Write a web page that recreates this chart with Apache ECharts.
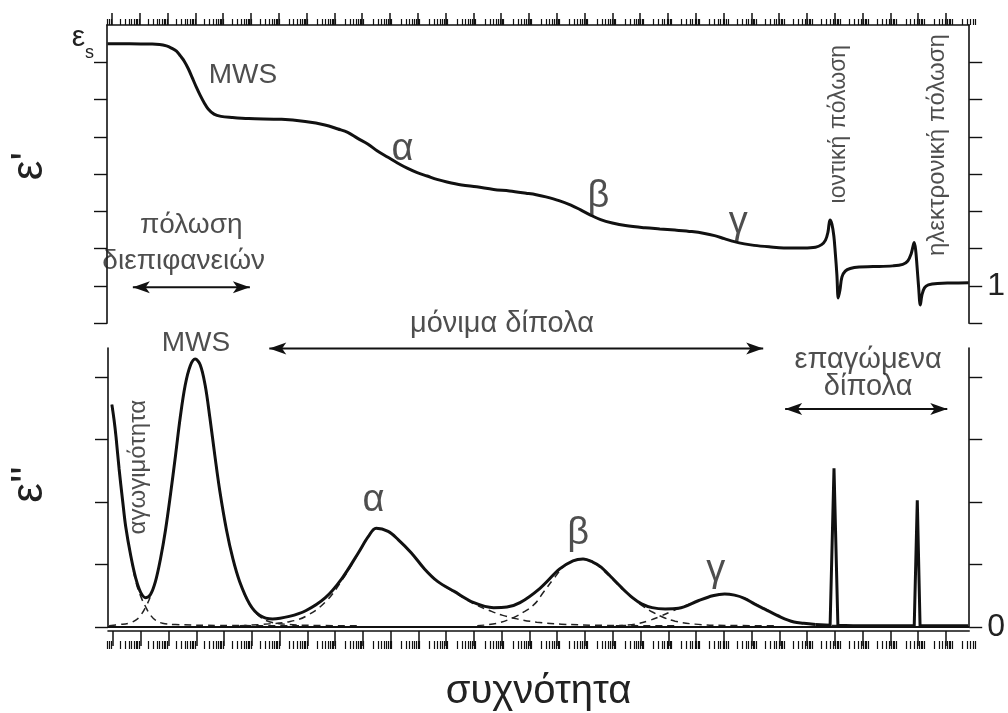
<!DOCTYPE html>
<html><head><meta charset="utf-8">
<script src="https://cdn.jsdelivr.net/npm/echarts@6/dist/echarts.min.js"></script>
<style>html,body{margin:0;padding:0;background:#fff}#c{width:1008px;height:713px}</style>
</head><body><div id="c"></div>
<script>
// ---------- data (x = log10 frequency, decades) ----------
const realLogF = [-0.16,0.64,1.35,1.71,1.96,2.14,2.32,2.46,2.60,2.75,2.89,3.03,3.17,3.32,3.46,3.67,3.92,4.31,4.92,6.10,6.95,7.66,8.13,8.48,8.84,9.20,9.55,9.91,10.27,10.62,10.98,11.34,11.69,12.05,12.58,13.12,13.73,14.30,14.90,15.26,15.61,16.08,16.51,16.86,17.22,17.58,18.00,18.47,19.18,19.71,20.25,20.86,21.32,21.68,22.03,22.39,22.75,23.10,23.64,24.17,24.88,25.31,25.53,25.67,25.76,25.83,25.90,25.97,26.02,26.08,26.13,26.19,26.26,26.38,26.56,26.88,27.38,28.09,28.45,28.63,28.75,28.82,28.86,28.91,28.96,29.02,29.08,29.14,29.23,29.37,29.70,30.23,30.82];
const realEps  = [7.50,7.50,7.49,7.48,7.44,7.38,7.30,7.17,7.03,6.82,6.58,6.34,6.12,5.91,5.75,5.61,5.55,5.52,5.49,5.47,5.41,5.32,5.21,5.12,4.96,4.81,4.62,4.46,4.30,4.16,4.04,3.95,3.86,3.79,3.71,3.66,3.59,3.55,3.49,3.45,3.39,3.29,3.17,3.04,2.90,2.78,2.69,2.62,2.56,2.53,2.50,2.46,2.41,2.35,2.27,2.19,2.13,2.09,2.05,2.02,2.02,2.04,2.11,2.23,2.45,2.77,2.66,2.34,1.91,1.30,0.68,0.89,1.24,1.40,1.47,1.51,1.52,1.54,1.58,1.67,1.86,2.07,2.17,1.99,1.56,0.97,0.49,0.76,0.95,1.03,1.07,1.08,1.09];

const lossLogF = [-0.04,0.04,0.11,0.22,0.35,0.46,0.64,0.82,1.00,1.18,1.35,1.53,1.71,1.89,2.07,2.25,2.42,2.60,2.78,2.96,3.14,3.32,3.49,3.67,3.85,4.09,4.32,4.56,4.92,5.28,5.75,6.35,6.94,7.65,8.25,8.84,9.20,9.48,9.91,10.27,10.74,11.22,11.69,12.29,13.00,13.71,14.19,14.66,15.38,16.09,16.57,16.93,17.28,17.58,17.99,18.32,18.71,19.04,19.42,19.89,20.37,21.08,21.60,22.03,22.39,22.74,23.10,23.46,24.05,24.53,24.88,25.31,25.83,25.97,26.11,26.66,27.84,28.86,28.97,29.07,29.87,30.80];
const lossEps  = [3.56,3.31,3.04,2.53,2.01,1.60,1.14,0.78,0.55,0.47,0.52,0.73,1.09,1.55,2.12,2.74,3.35,3.87,4.18,4.29,4.20,3.87,3.35,2.74,2.17,1.55,1.09,0.73,0.37,0.19,0.13,0.17,0.26,0.47,0.78,1.19,1.45,1.58,1.53,1.40,1.19,0.93,0.73,0.57,0.39,0.31,0.32,0.39,0.62,0.93,1.06,1.09,1.04,0.96,0.78,0.63,0.47,0.37,0.31,0.29,0.30,0.42,0.50,0.53,0.51,0.46,0.37,0.29,0.16,0.08,0.06,0.04,0.03,2.54,0.03,0.02,0.02,0.02,2.03,0.02,0.02,0.02];

const condLogF = [-0.04,0.11,0.22,0.35,0.46,0.64,0.82,1.00,1.18,1.35,1.53,1.78,2.25,3.85,6.70];
const condEps  = [3.56,3.04,2.53,2.01,1.60,1.14,0.73,0.49,0.32,0.19,0.11,0.06,0.04,0.025,0.02];
const mwsLogF = [-0.14,0.21,0.57,0.82,1.00,1.18,1.35,1.53,1.71,1.89,2.07,2.25,2.42,2.60,2.78,2.96,3.14,3.32,3.49,3.67,3.85,4.09,4.32,4.56,4.92,5.28,5.63,6.17,7.06,8.84];
const mwsEps  = [0.02,0.04,0.06,0.11,0.19,0.32,0.49,0.73,1.09,1.55,2.12,2.74,3.35,3.87,4.18,4.29,4.20,3.87,3.35,2.74,2.17,1.55,1.09,0.73,0.36,0.17,0.085,0.046,0.026,0.02];
const alphaLogF = [4.56,5.63,6.35,6.94,7.65,8.25,8.84,9.20,9.48,9.91,10.27,10.74,11.22,11.69,12.29,13.00,13.58,14.01,14.55,15.26,16.15,17.40,20.25];
const alphaEps  = [0.02,0.05,0.085,0.17,0.40,0.75,1.18,1.45,1.58,1.53,1.40,1.19,0.93,0.73,0.56,0.37,0.26,0.19,0.13,0.077,0.046,0.028,0.02];
const betaLogF = [13.12,13.83,14.37,14.83,15.19,15.51,15.87,16.22,16.58,16.93,17.29,17.65,18.00,18.36,18.72,19.07,19.43,19.79,20.25,20.96,22.03,23.81];
const betaEps  = [0.02,0.06,0.14,0.25,0.37,0.56,0.77,0.96,1.06,1.09,1.04,0.91,0.76,0.60,0.46,0.34,0.24,0.16,0.093,0.046,0.026,0.02];
const gammaLogF = [18.11,18.82,19.36,19.71,20.07,20.61,21.14,21.60,22.03,22.46,22.82,23.17,23.53,24.06,24.53,25.06,25.78,27.02];
const gammaEps  = [0.02,0.046,0.11,0.17,0.24,0.34,0.43,0.50,0.53,0.50,0.45,0.36,0.28,0.16,0.08,0.046,0.026,0.02];

const topYTicks = [0,1,2,3,4,5,6,7];
const bottomYTicks = [0,1,2,3,4];
const topRightLabels = [1];
const bottomRightLabels = [0];
const esLabelValue = [7];

// ---------- layout / style ----------
const FONT = "'Liberation Sans', Arial, sans-serif";
const INK = '#111';
const TXT = '#222';
const XMIN = -0.18, XMAX = 30.84;
const TOP_YMAX = 8, BOT_YMAX = 4.467;

const majorTicks = [];
for (let k = 0; k <= 30; k++) majorTicks.push(k);
const minorTicks = [];
for (let k = -1; k <= 30; k++) for (let m = 2; m <= 9; m++) {
  const v = k + Math.log10(m);
  if (v >= XMIN && v <= XMAX) minorTicks.push(+v.toFixed(4));
}

const zip = (a, b) => a.map((v, i) => [v, b[i]]);

const topNotes = [
  {text: 'MWS', at: [4.71, 6.66], size: 28},
  {text: 'α', at: [10.45, 4.65], size: 38},
  {text: 'β', at: [17.50, 3.40], size: 38},
  {text: 'γ', at: [22.53, 2.69], size: 38},
  {text: 'πόλωση', at: [2.85, 2.64], size: 28},
  {text: 'διεπιφανειών', at: [2.58, 1.67], size: 28},
  {text: 'ιοντική πόλωση', at: [26.15, 5.34], size: 23, rotate: 90},
  {text: 'ηλεκτρονική πόλωση', at: [29.70, 4.78], size: 24, rotate: 90}
];
const bottomNotes = [
  {text: 'MWS', at: [2.99, 4.54], size: 28},
  {text: 'μόνιμα δίπολα', at: [14.01, 4.85], size: 29},
  {text: 'α', at: [9.38, 2.02], size: 38},
  {text: 'β', at: [16.76, 1.49], size: 38},
  {text: 'γ', at: [21.71, 0.90], size: 38},
  {text: 'επαγώμενα', at: [27.20, 4.28], size: 29},
  {text: 'δίπολα', at: [27.20, 3.85], size: 29},
  {text: 'αγωγιμότητα', at: [0.93, 2.56], size: 24, rotate: 90}
];
const topArrows = [{from: 0.75, to: 4.96, y: 0.97}];
const bottomArrows = [{from: 5.63, to: 23.42, y: 4.46}, {from: 24.21, to: 30.05, y: 3.49}];

function noteSeries(notes, xi, yi) {
  return {
    type: 'scatter', xAxisIndex: xi, yAxisIndex: yi, symbolSize: 0, clip: false, silent: true, z: 10,
    data: notes.map(n => ({
      value: n.at,
      label: {show: true, position: 'inside', formatter: n.text, fontSize: n.size, rotate: n.rotate || 0,
              color: TXT, fontFamily: FONT}
    }))
  };
}
function arrowSeries(arrows, xi, yi) {
  return arrows.map(a => ({
    type: 'line', xAxisIndex: xi, yAxisIndex: yi, silent: true, z: 8,
    symbol: 'arrow', symbolSize: [9, 17],
    lineStyle: {color: INK, width: 2},
    itemStyle: {color: INK},
    data: [{value: [a.from, a.y], symbolRotate: 90}, {value: [a.to, a.y], symbolRotate: -90}]
  }));
}
function dashed(xs, ys) {
  return {type: 'line', xAxisIndex: 1, yAxisIndex: 2, smooth: 0.4, showSymbol: false, silent: true, z: 3,
          lineStyle: {color: '#222', width: 1.5, type: [7, 5]}, data: zip(xs, ys)};
}
function xAx(grid, pos, ticks, len, lineShow, offset, w, extra) {
  return Object.assign({
    gridIndex: grid, type: 'value', position: pos, min: XMIN, max: XMAX, offset: offset || 0,
    axisLine: {show: lineShow, onZero: false, lineStyle: {color: INK, width: 1.6}},
    axisTick: {show: true, inside: false, customValues: ticks, length: len, lineStyle: {color: INK, width: w}},
    axisLabel: {show: false}, splitLine: {show: false}
  }, extra || {});
}
function yAx(grid, pos, max, ticks, labels, extra) {
  return Object.assign({
    gridIndex: grid, type: 'value', position: pos, min: 0, max: max,
    axisLine: {show: true, onZero: false, lineStyle: {color: INK, width: 1.6}},
    axisTick: {show: true, inside: false, customValues: ticks, length: 13, lineStyle: {color: INK, width: 1.4}},
    axisLabel: labels ? Object.assign({show: true, color: TXT, fontFamily: FONT}, labels) : {show: false},
    splitLine: {show: false}
  }, extra || {});
}

const smoothPart = zip(lossLogF, lossEps).filter(p => p[0] <= 25.31);
const spikePart = zip(lossLogF, lossEps).filter(p => p[0] >= 25.31);

const option = {
  animation: false,
  backgroundColor: '#ffffff',
  textStyle: {fontFamily: FONT},
  grid: [
    {left: 107, right: 31, top: 25, height: 298.3},
    {left: 107, right: 31, top: 348, height: 289},
    {left: 107, right: 31, top: 25, height: 298.3},
    {left: 107, right: 31, top: 348, height: 289}
  ],
  xAxis: [
    xAx(0, 'top', majorTicks, 12, true, 0, 1.5),
    xAx(1, 'bottom', majorTicks, 15, true, 4, 1.5, {
      name: 'συχνότητα', nameLocation: 'middle', nameGap: 41,
      nameTextStyle: {fontSize: 40, color: TXT, fontFamily: FONT, lineHeight: 40}
    }),
    xAx(2, 'top', minorTicks, 6, false, 0, 1.2),
    xAx(3, 'bottom', minorTicks, 8, false, 4, 1.2)
  ],
  yAxis: [
    yAx(0, 'left', TOP_YMAX, topYTicks, {
      customValues: esLabelValue, margin: 13, verticalAlign: 'bottom', align: 'right',
      formatter: () => '{e|ε}{s|s}',
      padding: [0, 0, 0, 0],
      rich: {
        e: {fontSize: 30, lineHeight: 42, verticalAlign: 'top', color: TXT, fontFamily: FONT, padding: [2, 0, 0, 0]},
        s: {fontSize: 18, lineHeight: 42, verticalAlign: 'bottom', color: TXT, fontFamily: FONT}
      }
    }, {name: "ε'", nameLocation: 'middle', nameRotate: 90, nameGap: 55,
        nameTextStyle: {fontSize: 44, color: TXT, fontFamily: FONT, lineHeight: 44, padding: [0, 0, 0, 16]}}),
    yAx(0, 'right', TOP_YMAX, topYTicks, {customValues: topRightLabels, margin: 18, fontSize: 32}),
    yAx(1, 'left', BOT_YMAX, bottomYTicks, null,
        {name: "ε''", nameLocation: 'middle', nameRotate: 90, nameGap: 56,
         nameTextStyle: {fontSize: 44, color: TXT, fontFamily: FONT, lineHeight: 44, padding: [0, 0, 0, 6]}}),
    yAx(1, 'right', BOT_YMAX, bottomYTicks, {customValues: bottomRightLabels, margin: 18, fontSize: 32}),
    {gridIndex: 2, type: 'value', min: 0, max: TOP_YMAX, show: false},
    {gridIndex: 3, type: 'value', min: 0, max: BOT_YMAX, show: false}
  ],
  series: [
    {type: 'line', xAxisIndex: 0, yAxisIndex: 0, smooth: 0.35, showSymbol: false, silent: true, z: 5,
     lineStyle: {color: INK, width: 3}, data: zip(realLogF, realEps)},
    dashed(condLogF, condEps), dashed(mwsLogF, mwsEps), dashed(alphaLogF, alphaEps),
    dashed(betaLogF, betaEps), dashed(gammaLogF, gammaEps),
    {type: 'line', xAxisIndex: 1, yAxisIndex: 2, smooth: 0.35, showSymbol: false, silent: true, z: 5,
     lineStyle: {color: INK, width: 3}, data: smoothPart,
     markLine: {silent: true, symbol: 'none', label: {show: false},
                lineStyle: {color: INK, width: 1.8, type: 'solid'}, data: [{yAxis: 0}]}},
    {type: 'line', xAxisIndex: 1, yAxisIndex: 2, smooth: false, showSymbol: false, silent: true, z: 5,
     lineStyle: {color: INK, width: 3, join: 'miter'}, data: spikePart},
    noteSeries(topNotes, 0, 0),
    noteSeries(bottomNotes, 1, 2),
    ...arrowSeries(topArrows, 0, 0),
    ...arrowSeries(bottomArrows, 1, 2)
  ]
};
const chart = echarts.init(document.getElementById('c'), null, {renderer: 'canvas'});
chart.setOption(option);
</script>
</body></html>
